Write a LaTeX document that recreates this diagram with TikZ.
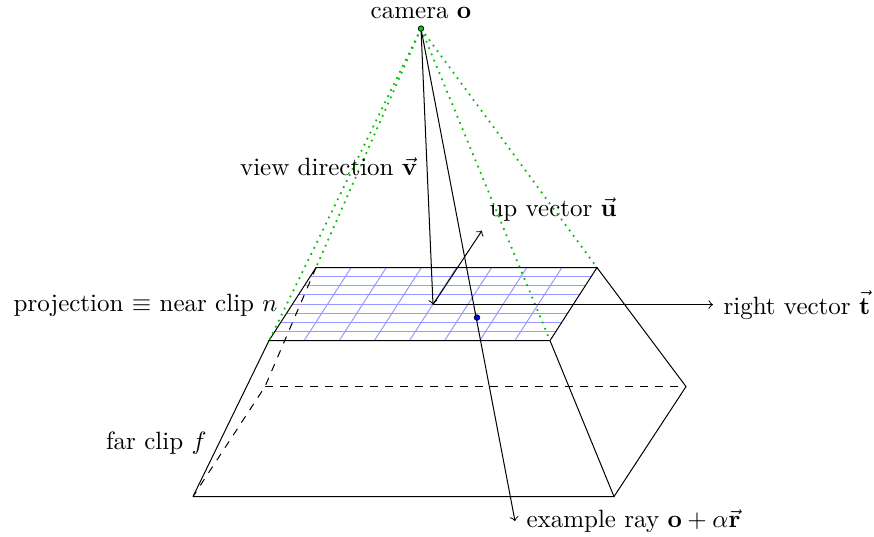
\documentclass[tikz,border=0pt]{standalone}
\usepackage{amsmath}
\usetikzlibrary{calc}

\begin{document}
\begin{tikzpicture}[
    x=0.4pt, y=-0.4pt,
    gridline/.style={blue!40, line width=0.4pt},
    sightline/.style={green!75!black, dotted, line width=0.7pt},
    edge/.style={black, line width=0.4pt},
    hidden/.style={black, dashed, line width=0.4pt},
    ray/.style={->, black, line width=0.4pt},
    lbl/.style={inner sep=0pt},
  ]
  \useasboundingbox (0,-0.6) rectangle (874,536.4);

  % corners of the near and far clip planes
  \coordinate (nfl) at (269,340);
  \coordinate (nfr) at (550,340);
  \coordinate (nbr) at (597,267);
  \coordinate (nbl) at (316,267);
  \coordinate (ffl) at (193,496);
  \coordinate (ffr) at (614,496);
  \coordinate (fbr) at (686,386);
  \coordinate (fbl) at (265,386);
  \coordinate (cam) at (421,28);
  \coordinate (mid) at (433,304);
  \coordinate (upend) at (482,230);

  % projection grid
  \foreach \i in {1,...,7} {
    \draw[gridline] ($(nfl)!\i/8!(nbl)$) -- ($(nfr)!\i/8!(nbr)$);
    \draw[gridline] ($(nfl)!\i/8!(nfr)$) -- ($(nbl)!\i/8!(nbr)$);
  }

  % hidden edges
  \draw[hidden] (nbl) -- (fbl) -- (ffl);
  \draw[hidden] (fbl) -- (fbr);

  % frustum
  \draw[edge] (nfl) -- (nfr) -- (nbr) -- (nbl) -- cycle;
  \draw[edge] (ffl) -- (ffr) -- (fbr) -- (nbr);
  \draw[edge] (nfl) -- (ffl);
  \draw[edge] (nfr) -- (ffr);

  % lines of sight from the camera
  \foreach \c in {nfl,nfr,nbr,nbl} {
    \draw[sightline] (cam) -- (\c);
  }

  % labels
  \node[lbl, anchor=base] (camlbl) at (421,18) {camera $\mathbf{o}$};
  \node[lbl, anchor=base east] (viewlbl) at (418,175) {view direction $\vec{\mathbf{v}}$};
  \node[lbl, anchor=base west] (uplbl) at (489,215.5) {up vector $\vec{\mathbf{u}}$};
  \node[lbl, anchor=base east] (nearlbl) at (278,311) {projection $\equiv$ near clip $n$};
  \node[lbl, anchor=base east] (farlbl) at (207,449) {far clip $f$};
  \node[lbl, anchor=base west] (raylbl) at (526,527) {example ray $\mathbf{o}+\alpha\vec{\mathbf{r}}$};
  \node[lbl, anchor=base west] (rightlbl) at (723,313.5) {right vector $\vec{\mathbf{t}}$};

  % vectors
  \draw[ray] (cam) -- (mid);
  \draw[ray] (mid) -- (upend);
  \draw[ray] (mid) -- ([xshift=-4pt]rightlbl.west |- mid);
  \draw[ray] (cam) -- ([xshift=-4.4pt]raylbl.west);

  % camera and ray sample
  \fill[green!80!black, draw=black, line width=0.3pt] (cam) circle (1.1pt);
  \fill[blue, draw=black, line width=0.3pt] (477,317) circle (1.1pt);
\end{tikzpicture}
\end{document}
